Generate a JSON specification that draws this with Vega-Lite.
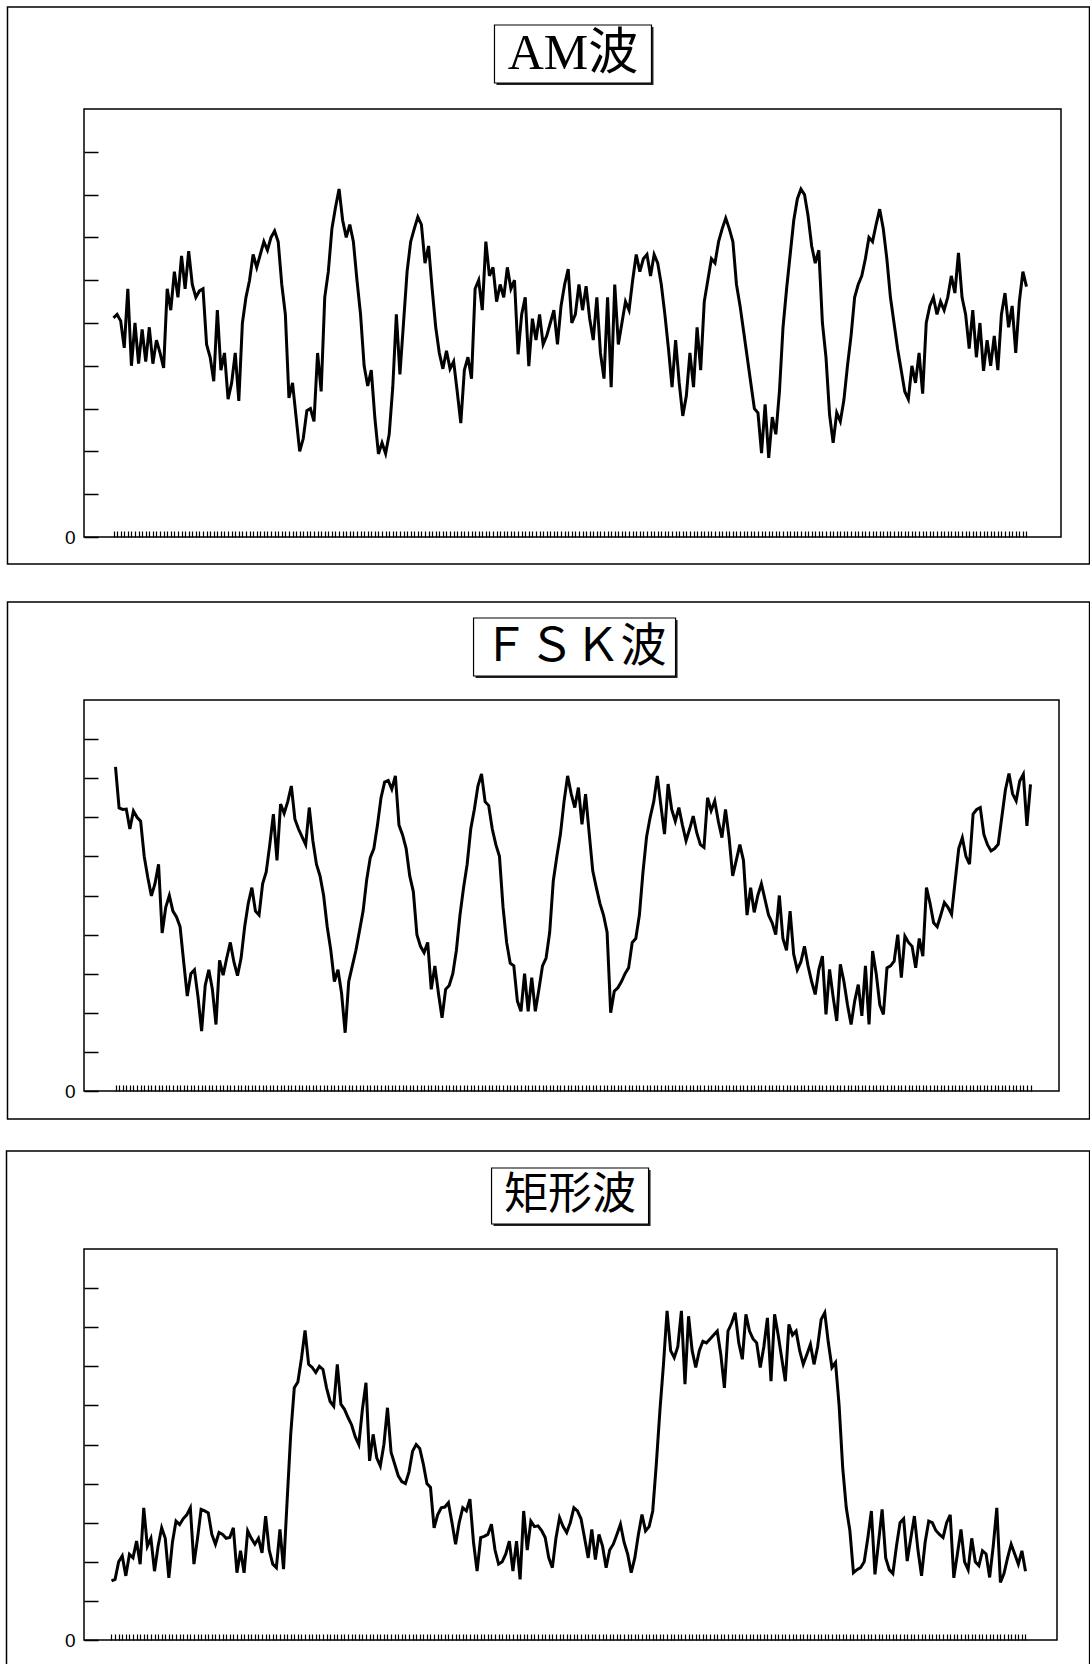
{
"$schema": "https://vega.github.io/schema/vega-lite/v6.json",
"padding": {"left": 5, "top": 5, "right": 0, "bottom": 0},
"background": "white",
"config": {"view": {"stroke": "#000", "strokeWidth": 1.5}, "axis": {"domain": false, "grid": false, "tickColor": "#000", "labelColor": "#000"}},
"datasets": {
"am": [{"i":0,"v":5.12},{"i":1,"v":5.2},{"i":2,"v":5.05},{"i":3,"v":4.42},{"i":4,"v":5.8},{"i":5,"v":4.0},{"i":6,"v":5.0},{"i":7,"v":4.05},{"i":8,"v":4.85},{"i":9,"v":4.1},{"i":10,"v":4.9},{"i":11,"v":4.05},{"i":12,"v":4.6},{"i":13,"v":4.3},{"i":14,"v":3.95},{"i":15,"v":5.8},{"i":16,"v":5.3},{"i":17,"v":6.2},{"i":18,"v":5.6},{"i":19,"v":6.57},{"i":20,"v":5.8},{"i":21,"v":6.68},{"i":22,"v":5.9},{"i":23,"v":5.6},{"i":24,"v":5.75},{"i":25,"v":5.8},{"i":26,"v":4.5},{"i":27,"v":4.2},{"i":28,"v":3.64},{"i":29,"v":5.3},{"i":30,"v":3.9},{"i":31,"v":4.3},{"i":32,"v":3.22},{"i":33,"v":3.6},{"i":34,"v":4.3},{"i":35,"v":3.18},{"i":36,"v":5.0},{"i":37,"v":5.6},{"i":38,"v":6.0},{"i":39,"v":6.6},{"i":40,"v":6.3},{"i":41,"v":6.6},{"i":42,"v":6.9},{"i":43,"v":6.7},{"i":44,"v":7.0},{"i":45,"v":7.15},{"i":46,"v":6.9},{"i":47,"v":5.9},{"i":48,"v":5.2},{"i":49,"v":3.25},{"i":50,"v":3.6},{"i":51,"v":2.8},{"i":52,"v":2.0},{"i":53,"v":2.3},{"i":54,"v":2.95},{"i":55,"v":3.0},{"i":56,"v":2.7},{"i":57,"v":4.3},{"i":58,"v":3.4},{"i":59,"v":5.6},{"i":60,"v":6.2},{"i":61,"v":7.2},{"i":62,"v":7.7},{"i":63,"v":8.13},{"i":64,"v":7.4},{"i":65,"v":7.0},{"i":66,"v":7.3},{"i":67,"v":6.9},{"i":68,"v":6.0},{"i":69,"v":5.2},{"i":70,"v":4.0},{"i":71,"v":3.53},{"i":72,"v":3.9},{"i":73,"v":2.78},{"i":74,"v":1.94},{"i":75,"v":2.2},{"i":76,"v":1.95},{"i":77,"v":2.4},{"i":78,"v":3.5},{"i":79,"v":5.2},{"i":80,"v":3.8},{"i":81,"v":5.0},{"i":82,"v":6.2},{"i":83,"v":6.9},{"i":84,"v":7.2},{"i":85,"v":7.48},{"i":86,"v":7.3},{"i":87,"v":6.4},{"i":88,"v":6.8},{"i":89,"v":5.8},{"i":90,"v":4.9},{"i":91,"v":4.3},{"i":92,"v":3.93},{"i":93,"v":4.35},{"i":94,"v":3.93},{"i":95,"v":4.1},{"i":96,"v":3.4},{"i":97,"v":2.66},{"i":98,"v":3.9},{"i":99,"v":4.2},{"i":100,"v":3.7},{"i":101,"v":5.8},{"i":102,"v":6.0},{"i":103,"v":5.3},{"i":104,"v":6.9},{"i":105,"v":6.1},{"i":106,"v":6.3},{"i":107,"v":5.5},{"i":108,"v":5.9},{"i":109,"v":5.6},{"i":110,"v":6.3},{"i":111,"v":5.8},{"i":112,"v":6.0},{"i":113,"v":4.27},{"i":114,"v":5.2},{"i":115,"v":5.6},{"i":116,"v":3.99},{"i":117,"v":5.1},{"i":118,"v":4.6},{"i":119,"v":5.2},{"i":120,"v":4.5},{"i":121,"v":4.7},{"i":122,"v":5.0},{"i":123,"v":5.3},{"i":124,"v":4.5},{"i":125,"v":5.4},{"i":126,"v":5.9},{"i":127,"v":6.26},{"i":128,"v":5.0},{"i":129,"v":5.2},{"i":130,"v":5.9},{"i":131,"v":5.3},{"i":132,"v":5.86},{"i":133,"v":5.1},{"i":134,"v":4.6},{"i":135,"v":5.6},{"i":136,"v":4.3},{"i":137,"v":3.7},{"i":138,"v":5.6},{"i":139,"v":3.5},{"i":140,"v":5.9},{"i":141,"v":4.5},{"i":142,"v":5.0},{"i":143,"v":5.5},{"i":144,"v":5.3},{"i":145,"v":6.0},{"i":146,"v":6.6},{"i":147,"v":6.2},{"i":148,"v":6.5},{"i":149,"v":6.6},{"i":150,"v":6.1},{"i":151,"v":6.6},{"i":152,"v":6.4},{"i":153,"v":5.9},{"i":154,"v":5.2},{"i":155,"v":4.4},{"i":156,"v":3.5},{"i":157,"v":4.6},{"i":158,"v":3.6},{"i":159,"v":2.83},{"i":160,"v":3.3},{"i":161,"v":4.3},{"i":162,"v":3.5},{"i":163,"v":4.9},{"i":164,"v":3.9},{"i":165,"v":5.5},{"i":166,"v":6.0},{"i":167,"v":6.5},{"i":168,"v":6.4},{"i":169,"v":6.9},{"i":170,"v":7.2},{"i":171,"v":7.45},{"i":172,"v":7.2},{"i":173,"v":6.9},{"i":174,"v":5.9},{"i":175,"v":5.4},{"i":176,"v":4.8},{"i":177,"v":4.2},{"i":178,"v":3.6},{"i":179,"v":3.0},{"i":180,"v":2.9},{"i":181,"v":1.96},{"i":182,"v":3.1},{"i":183,"v":1.85},{"i":184,"v":2.8},{"i":185,"v":2.4},{"i":186,"v":3.4},{"i":187,"v":4.9},{"i":188,"v":5.8},{"i":189,"v":6.6},{"i":190,"v":7.4},{"i":191,"v":7.9},{"i":192,"v":8.13},{"i":193,"v":8.0},{"i":194,"v":7.5},{"i":195,"v":6.8},{"i":196,"v":6.4},{"i":197,"v":6.7},{"i":198,"v":5.0},{"i":199,"v":4.2},{"i":200,"v":2.86},{"i":201,"v":2.2},{"i":202,"v":2.9},{"i":203,"v":2.7},{"i":204,"v":3.2},{"i":205,"v":4.0},{"i":206,"v":4.7},{"i":207,"v":5.6},{"i":208,"v":5.9},{"i":209,"v":6.1},{"i":210,"v":6.5},{"i":211,"v":7.0},{"i":212,"v":6.9},{"i":213,"v":7.3},{"i":214,"v":7.66},{"i":215,"v":7.2},{"i":216,"v":6.5},{"i":217,"v":5.6},{"i":218,"v":5.0},{"i":219,"v":4.4},{"i":220,"v":3.9},{"i":221,"v":3.4},{"i":222,"v":3.22},{"i":223,"v":4.0},{"i":224,"v":3.6},{"i":225,"v":4.3},{"i":226,"v":3.35},{"i":227,"v":5.0},{"i":228,"v":5.4},{"i":229,"v":5.6},{"i":230,"v":5.2},{"i":231,"v":5.5},{"i":232,"v":5.3},{"i":233,"v":5.6},{"i":234,"v":6.1},{"i":235,"v":5.7},{"i":236,"v":6.64},{"i":237,"v":5.6},{"i":238,"v":5.2},{"i":239,"v":4.4},{"i":240,"v":5.3},{"i":241,"v":4.2},{"i":242,"v":5.0},{"i":243,"v":3.88},{"i":244,"v":4.6},{"i":245,"v":4.0},{"i":246,"v":4.7},{"i":247,"v":3.9},{"i":248,"v":5.2},{"i":249,"v":5.7},{"i":250,"v":4.9},{"i":251,"v":5.4},{"i":252,"v":4.3},{"i":253,"v":5.5},{"i":254,"v":6.2},{"i":255,"v":5.85}],
"fsk": [{"i":0,"v":8.29},{"i":1,"v":7.24},{"i":2,"v":7.2},{"i":3,"v":7.21},{"i":4,"v":6.7},{"i":5,"v":7.16},{"i":6,"v":7.0},{"i":7,"v":6.9},{"i":8,"v":6.0},{"i":9,"v":5.46},{"i":10,"v":4.99},{"i":11,"v":5.3},{"i":12,"v":5.8},{"i":13,"v":4.04},{"i":14,"v":4.7},{"i":15,"v":5.0},{"i":16,"v":4.6},{"i":17,"v":4.45},{"i":18,"v":4.2},{"i":19,"v":3.3},{"i":20,"v":2.43},{"i":21,"v":3.0},{"i":22,"v":3.1},{"i":23,"v":2.4},{"i":24,"v":1.53},{"i":25,"v":2.7},{"i":26,"v":3.1},{"i":27,"v":2.6},{"i":28,"v":1.7},{"i":29,"v":3.34},{"i":30,"v":2.96},{"i":31,"v":3.4},{"i":32,"v":3.8},{"i":33,"v":3.3},{"i":34,"v":2.95},{"i":35,"v":3.4},{"i":36,"v":4.2},{"i":37,"v":4.8},{"i":38,"v":5.2},{"i":39,"v":4.6},{"i":40,"v":4.5},{"i":41,"v":5.3},{"i":42,"v":5.6},{"i":43,"v":6.3},{"i":44,"v":7.08},{"i":45,"v":5.9},{"i":46,"v":7.34},{"i":47,"v":7.1},{"i":48,"v":7.4},{"i":49,"v":7.8},{"i":50,"v":6.95},{"i":51,"v":6.7},{"i":52,"v":6.5},{"i":53,"v":6.3},{"i":54,"v":7.25},{"i":55,"v":6.4},{"i":56,"v":5.8},{"i":57,"v":5.5},{"i":58,"v":5.0},{"i":59,"v":4.2},{"i":60,"v":3.6},{"i":61,"v":2.8},{"i":62,"v":3.1},{"i":63,"v":2.5},{"i":64,"v":1.49},{"i":65,"v":2.8},{"i":66,"v":3.2},{"i":67,"v":3.6},{"i":68,"v":4.1},{"i":69,"v":4.6},{"i":70,"v":5.4},{"i":71,"v":5.97},{"i":72,"v":6.2},{"i":73,"v":6.8},{"i":74,"v":7.5},{"i":75,"v":7.9},{"i":76,"v":7.94},{"i":77,"v":7.72},{"i":78,"v":8.06},{"i":79,"v":6.8},{"i":80,"v":6.55},{"i":81,"v":6.2},{"i":82,"v":5.5},{"i":83,"v":5.1},{"i":84,"v":4.0},{"i":85,"v":3.7},{"i":86,"v":3.54},{"i":87,"v":3.8},{"i":88,"v":2.6},{"i":89,"v":3.2},{"i":90,"v":2.5},{"i":91,"v":1.87},{"i":92,"v":2.6},{"i":93,"v":2.7},{"i":94,"v":3.0},{"i":95,"v":3.6},{"i":96,"v":4.5},{"i":97,"v":5.2},{"i":98,"v":5.8},{"i":99,"v":6.7},{"i":100,"v":7.2},{"i":101,"v":7.8},{"i":102,"v":8.11},{"i":103,"v":7.4},{"i":104,"v":7.3},{"i":105,"v":6.7},{"i":106,"v":6.3},{"i":107,"v":6.0},{"i":108,"v":4.7},{"i":109,"v":3.8},{"i":110,"v":3.27},{"i":111,"v":3.2},{"i":112,"v":2.3},{"i":113,"v":2.04},{"i":114,"v":3.0},{"i":115,"v":2.04},{"i":116,"v":2.9},{"i":117,"v":2.04},{"i":118,"v":2.6},{"i":119,"v":3.2},{"i":120,"v":3.4},{"i":121,"v":4.06},{"i":122,"v":5.37},{"i":123,"v":6.0},{"i":124,"v":6.57},{"i":125,"v":7.4},{"i":126,"v":8.06},{"i":127,"v":7.6},{"i":128,"v":7.25},{"i":129,"v":7.76},{"i":130,"v":6.82},{"i":131,"v":7.59},{"i":132,"v":6.6},{"i":133,"v":5.63},{"i":134,"v":5.2},{"i":135,"v":4.8},{"i":136,"v":4.5},{"i":137,"v":4.06},{"i":138,"v":2.0},{"i":139,"v":2.55},{"i":140,"v":2.64},{"i":141,"v":2.8},{"i":142,"v":3.0},{"i":143,"v":3.15},{"i":144,"v":3.8},{"i":145,"v":3.9},{"i":146,"v":4.5},{"i":147,"v":5.6},{"i":148,"v":6.5},{"i":149,"v":7.0},{"i":150,"v":7.4},{"i":151,"v":8.06},{"i":152,"v":7.3},{"i":153,"v":6.57},{"i":154,"v":7.85},{"i":155,"v":7.2},{"i":156,"v":6.9},{"i":157,"v":7.25},{"i":158,"v":6.8},{"i":159,"v":6.4},{"i":160,"v":6.7},{"i":161,"v":7.03},{"i":162,"v":6.6},{"i":163,"v":6.3},{"i":164,"v":6.23},{"i":165,"v":7.5},{"i":166,"v":7.17},{"i":167,"v":7.42},{"i":168,"v":6.9},{"i":169,"v":6.48},{"i":170,"v":7.2},{"i":171,"v":6.48},{"i":172,"v":5.5},{"i":173,"v":5.9},{"i":174,"v":6.3},{"i":175,"v":5.9},{"i":176,"v":4.5},{"i":177,"v":5.2},{"i":178,"v":4.57},{"i":179,"v":5.0},{"i":180,"v":5.3},{"i":181,"v":4.9},{"i":182,"v":4.5},{"i":183,"v":4.3},{"i":184,"v":4.0},{"i":185,"v":5.0},{"i":186,"v":3.9},{"i":187,"v":3.6},{"i":188,"v":4.6},{"i":189,"v":3.5},{"i":190,"v":3.1},{"i":191,"v":3.3},{"i":192,"v":3.7},{"i":193,"v":3.2},{"i":194,"v":2.8},{"i":195,"v":2.47},{"i":196,"v":3.1},{"i":197,"v":3.45},{"i":198,"v":1.96},{"i":199,"v":3.11},{"i":200,"v":2.4},{"i":201,"v":1.79},{"i":202,"v":3.24},{"i":203,"v":2.8},{"i":204,"v":2.2},{"i":205,"v":1.7},{"i":206,"v":2.3},{"i":207,"v":2.72},{"i":208,"v":1.92},{"i":209,"v":3.2},{"i":210,"v":1.7},{"i":211,"v":3.58},{"i":212,"v":3.0},{"i":213,"v":2.2},{"i":214,"v":1.96},{"i":215,"v":3.15},{"i":216,"v":3.2},{"i":217,"v":3.32},{"i":218,"v":4.0},{"i":219,"v":2.9},{"i":220,"v":3.96},{"i":221,"v":3.8},{"i":222,"v":3.7},{"i":223,"v":3.15},{"i":224,"v":3.9},{"i":225,"v":3.45},{"i":226,"v":5.2},{"i":227,"v":4.8},{"i":228,"v":4.3},{"i":229,"v":4.2},{"i":230,"v":4.5},{"i":231,"v":4.82},{"i":232,"v":4.7},{"i":233,"v":4.52},{"i":234,"v":5.37},{"i":235,"v":6.2},{"i":236,"v":6.48},{"i":237,"v":6.0},{"i":238,"v":5.8},{"i":239,"v":7.08},{"i":240,"v":7.2},{"i":241,"v":7.25},{"i":242,"v":6.56},{"i":243,"v":6.3},{"i":244,"v":6.14},{"i":245,"v":6.2},{"i":246,"v":6.31},{"i":247,"v":7.0},{"i":248,"v":7.7},{"i":249,"v":8.12},{"i":250,"v":7.6},{"i":251,"v":7.42},{"i":252,"v":7.93},{"i":253,"v":8.1},{"i":254,"v":6.78},{"i":255,"v":7.84}],
"rect": [{"i":0,"v":1.51},{"i":1,"v":1.55},{"i":2,"v":2.0},{"i":3,"v":2.15},{"i":4,"v":1.64},{"i":5,"v":2.19},{"i":6,"v":2.1},{"i":7,"v":2.53},{"i":8,"v":1.94},{"i":9,"v":3.38},{"i":10,"v":2.4},{"i":11,"v":2.6},{"i":12,"v":1.76},{"i":13,"v":2.4},{"i":14,"v":2.87},{"i":15,"v":2.6},{"i":16,"v":1.59},{"i":17,"v":2.5},{"i":18,"v":3.04},{"i":19,"v":2.95},{"i":20,"v":3.1},{"i":21,"v":3.2},{"i":22,"v":3.38},{"i":23,"v":1.94},{"i":24,"v":2.6},{"i":25,"v":3.34},{"i":26,"v":3.3},{"i":27,"v":3.25},{"i":28,"v":2.7},{"i":29,"v":2.45},{"i":30,"v":2.75},{"i":31,"v":2.7},{"i":32,"v":2.6},{"i":33,"v":2.62},{"i":34,"v":2.87},{"i":35,"v":1.72},{"i":36,"v":2.28},{"i":37,"v":1.72},{"i":38,"v":2.79},{"i":39,"v":2.6},{"i":40,"v":2.45},{"i":41,"v":2.6},{"i":42,"v":2.23},{"i":43,"v":3.17},{"i":44,"v":2.3},{"i":45,"v":1.94},{"i":46,"v":1.85},{"i":47,"v":2.83},{"i":48,"v":1.81},{"i":49,"v":3.56},{"i":50,"v":5.26},{"i":51,"v":6.45},{"i":52,"v":6.6},{"i":53,"v":7.2},{"i":54,"v":7.92},{"i":55,"v":7.05},{"i":56,"v":6.97},{"i":57,"v":6.84},{"i":58,"v":7.0},{"i":59,"v":6.92},{"i":60,"v":6.45},{"i":61,"v":6.1},{"i":62,"v":5.98},{"i":63,"v":7.05},{"i":64,"v":6.03},{"i":65,"v":5.9},{"i":66,"v":5.69},{"i":67,"v":5.5},{"i":68,"v":5.2},{"i":69,"v":5.0},{"i":70,"v":5.9},{"i":71,"v":6.58},{"i":72,"v":4.58},{"i":73,"v":5.26},{"i":74,"v":4.66},{"i":75,"v":4.45},{"i":76,"v":5.0},{"i":77,"v":5.94},{"i":78,"v":4.8},{"i":79,"v":4.5},{"i":80,"v":4.2},{"i":81,"v":4.05},{"i":82,"v":4.0},{"i":83,"v":4.3},{"i":84,"v":4.83},{"i":85,"v":5.0},{"i":86,"v":4.9},{"i":87,"v":4.5},{"i":88,"v":4.0},{"i":89,"v":3.9},{"i":90,"v":2.87},{"i":91,"v":3.2},{"i":92,"v":3.38},{"i":93,"v":3.4},{"i":94,"v":3.51},{"i":95,"v":3.0},{"i":96,"v":2.45},{"i":97,"v":3.0},{"i":98,"v":3.38},{"i":99,"v":3.3},{"i":100,"v":3.6},{"i":101,"v":2.5},{"i":102,"v":1.76},{"i":103,"v":2.62},{"i":104,"v":2.65},{"i":105,"v":2.7},{"i":106,"v":2.96},{"i":107,"v":2.3},{"i":108,"v":1.94},{"i":109,"v":2.0},{"i":110,"v":2.2},{"i":111,"v":2.53},{"i":112,"v":1.76},{"i":113,"v":2.53},{"i":114,"v":1.55},{"i":115,"v":3.3},{"i":116,"v":2.3},{"i":117,"v":3.04},{"i":118,"v":2.9},{"i":119,"v":2.92},{"i":120,"v":2.8},{"i":121,"v":2.62},{"i":122,"v":2.1},{"i":123,"v":1.85},{"i":124,"v":2.6},{"i":125,"v":3.13},{"i":126,"v":2.9},{"i":127,"v":2.75},{"i":128,"v":3.0},{"i":129,"v":3.38},{"i":130,"v":3.3},{"i":131,"v":3.1},{"i":132,"v":2.6},{"i":133,"v":2.1},{"i":134,"v":2.83},{"i":135,"v":2.06},{"i":136,"v":2.7},{"i":137,"v":2.4},{"i":138,"v":1.85},{"i":139,"v":2.3},{"i":140,"v":2.45},{"i":141,"v":2.7},{"i":142,"v":2.96},{"i":143,"v":2.5},{"i":144,"v":2.2},{"i":145,"v":1.72},{"i":146,"v":2.1},{"i":147,"v":2.7},{"i":148,"v":3.21},{"i":149,"v":2.79},{"i":150,"v":2.9},{"i":151,"v":3.3},{"i":152,"v":4.5},{"i":153,"v":5.86},{"i":154,"v":7.05},{"i":155,"v":8.42},{"i":156,"v":7.4},{"i":157,"v":7.22},{"i":158,"v":7.5},{"i":159,"v":8.42},{"i":160,"v":6.54},{"i":161,"v":8.28},{"i":162,"v":7.4},{"i":163,"v":6.97},{"i":164,"v":7.4},{"i":165,"v":7.64},{"i":166,"v":7.6},{"i":167,"v":7.7},{"i":168,"v":7.8},{"i":169,"v":7.9},{"i":170,"v":7.3},{"i":171,"v":6.45},{"i":172,"v":7.9},{"i":173,"v":8.1},{"i":174,"v":8.37},{"i":175,"v":7.6},{"i":176,"v":7.18},{"i":177,"v":8.33},{"i":178,"v":7.9},{"i":179,"v":7.7},{"i":180,"v":7.6},{"i":181,"v":6.97},{"i":182,"v":7.5},{"i":183,"v":8.24},{"i":184,"v":6.62},{"i":185,"v":8.33},{"i":186,"v":7.8},{"i":187,"v":7.2},{"i":188,"v":6.62},{"i":189,"v":8.07},{"i":190,"v":7.8},{"i":191,"v":7.9},{"i":192,"v":7.4},{"i":193,"v":7.05},{"i":194,"v":7.3},{"i":195,"v":7.56},{"i":196,"v":7.05},{"i":197,"v":7.5},{"i":198,"v":8.2},{"i":199,"v":8.37},{"i":200,"v":7.6},{"i":201,"v":6.97},{"i":202,"v":7.1},{"i":203,"v":6.0},{"i":204,"v":4.41},{"i":205,"v":3.38},{"i":206,"v":2.8},{"i":207,"v":1.72},{"i":208,"v":1.8},{"i":209,"v":1.85},{"i":210,"v":2.0},{"i":211,"v":2.6},{"i":212,"v":3.3},{"i":213,"v":1.68},{"i":214,"v":2.5},{"i":215,"v":3.34},{"i":216,"v":2.1},{"i":217,"v":1.8},{"i":218,"v":1.7},{"i":219,"v":2.4},{"i":220,"v":3.0},{"i":221,"v":3.1},{"i":222,"v":2.02},{"i":223,"v":2.6},{"i":224,"v":3.17},{"i":225,"v":2.3},{"i":226,"v":1.64},{"i":227,"v":2.5},{"i":228,"v":3.04},{"i":229,"v":3.0},{"i":230,"v":2.8},{"i":231,"v":2.7},{"i":232,"v":2.62},{"i":233,"v":3.0},{"i":234,"v":3.2},{"i":235,"v":1.59},{"i":236,"v":2.2},{"i":237,"v":2.83},{"i":238,"v":2.0},{"i":239,"v":1.8},{"i":240,"v":2.6},{"i":241,"v":2.0},{"i":242,"v":1.9},{"i":243,"v":2.28},{"i":244,"v":2.2},{"i":245,"v":1.6},{"i":246,"v":2.4},{"i":247,"v":3.38},{"i":248,"v":1.47},{"i":249,"v":1.7},{"i":250,"v":2.1},{"i":251,"v":2.45},{"i":252,"v":2.2},{"i":253,"v":1.94},{"i":254,"v":2.28},{"i":255,"v":1.76}]
},
"spacing": 163,
"bounds": "flush",
"vconcat": [
{
"width": 977, "height": 428,
"layer": [
{"data": {"values": [{}]}, "mark": {"type": "rect", "fill": null, "stroke": "#000", "strokeWidth": 1.5, "clip": false},
 "encoding": {"x": {"datum": -29.61, "type": "quantitative", "title": null, "scale": {"domain": [-8.24, 264.64], "nice": false, "zero": false}}, "x2": {"datum": 272.6}, "y": {"datum": 12.383, "type": "quantitative", "title": null, "scale": {"domain": [0, 10], "nice": false}}, "y2": {"datum": -0.631}}},
{"data": {"values": [{}]}, "mark": {"type": "rect", "fill": "#222", "stroke": null, "clip": false},
 "encoding": {"x": {"datum": 106.97, "type": "quantitative", "title": null, "scale": {"domain": [-8.24, 264.64], "nice": false, "zero": false}}, "x2": {"datum": 150.82}, "y": {"datum": 11.916, "type": "quantitative", "title": null, "scale": {"domain": [0, 10], "nice": false}}, "y2": {"datum": 10.56}}},
{"data": {"values": [{}]}, "mark": {"type": "rect", "fill": "white", "stroke": "#000", "strokeWidth": 1.2, "clip": false},
 "encoding": {"x": {"datum": 106.41, "type": "quantitative", "title": null, "scale": {"domain": [-8.24, 264.64], "nice": false, "zero": false}}, "x2": {"datum": 150.26}, "y": {"datum": 11.963, "type": "quantitative", "title": null, "scale": {"domain": [0, 10], "nice": false}}, "y2": {"datum": 10.607}}},
{"data": {"values": [{}]}, "mark": {"type": "text", "font": "Liberation Serif, Noto Sans CJK JP", "fontSize": 50, "align": "center", "baseline": "middle", "color": "#000", "clip": false},
 "encoding": {"x": {"datum": 128.34, "type": "quantitative", "title": null, "scale": {"domain": [-8.24, 264.64], "nice": false, "zero": false}}, "y": {"datum": 11.285, "type": "quantitative", "title": null, "scale": {"domain": [0, 10], "nice": false}}, "text": {"value": "AM波"}}},
{"data": {"name": "am"},
 "mark": {"type": "line", "color": "#000", "strokeWidth": 3},
 "encoding": {
  "x": {"field": "i", "type": "quantitative", "title": null, "scale": {"domain": [-8.24, 264.64], "nice": false, "zero": false},
   "axis": {"title": null, "labels": false, "tickSize": -6, "tickWidth": 1.2, "tickCount": 400, "values": [0,1,2,3,4,5,6,7,8,9,10,11,12,13,14,15,16,17,18,19,20,21,22,23,24,25,26,27,28,29,30,31,32,33,34,35,36,37,38,39,40,41,42,43,44,45,46,47,48,49,50,51,52,53,54,55,56,57,58,59,60,61,62,63,64,65,66,67,68,69,70,71,72,73,74,75,76,77,78,79,80,81,82,83,84,85,86,87,88,89,90,91,92,93,94,95,96,97,98,99,100,101,102,103,104,105,106,107,108,109,110,111,112,113,114,115,116,117,118,119,120,121,122,123,124,125,126,127,128,129,130,131,132,133,134,135,136,137,138,139,140,141,142,143,144,145,146,147,148,149,150,151,152,153,154,155,156,157,158,159,160,161,162,163,164,165,166,167,168,169,170,171,172,173,174,175,176,177,178,179,180,181,182,183,184,185,186,187,188,189,190,191,192,193,194,195,196,197,198,199,200,201,202,203,204,205,206,207,208,209,210,211,212,213,214,215,216,217,218,219,220,221,222,223,224,225,226,227,228,229,230,231,232,233,234,235,236,237,238,239,240,241,242,243,244,245,246,247,248,249,250,251,252,253,254,255]}},
  "y": {"field": "v", "type": "quantitative", "title": null, "scale": {"domain": [0, 10], "nice": false},
   "axis": {"title": null, "values": [0,1,2,3,4,5,6,7,8,9], "tickCount": 20, "tickSize": -14, "tickWidth": 1.5, "labelExpr": "datum.value == 0 ? '0' : ''", "labelFont": "Liberation Sans", "labelFontSize": 19, "labelPadding": 23}}
 }}
]
},
{
"spacing": 158,
"bounds": "flush",
"vconcat": [
{
"width": 975, "height": 391,
"layer": [
{"data": {"values": [{}]}, "mark": {"type": "rect", "fill": null, "stroke": "#000", "strokeWidth": 1.5, "clip": false},
 "encoding": {"x": {"datum": -30.1, "type": "quantitative", "title": null, "scale": {"domain": [-8.78, 262.94], "nice": false, "zero": false}}, "x2": {"datum": 271.46}, "y": {"datum": 12.506, "type": "quantitative", "title": null, "scale": {"domain": [0, 10], "nice": false}}, "y2": {"datum": -0.716}}},
{"data": {"values": [{}]}, "mark": {"type": "rect", "fill": "#222", "stroke": null, "clip": false},
 "encoding": {"x": {"datum": 100.34, "type": "quantitative", "title": null, "scale": {"domain": [-8.78, 262.94], "nice": false, "zero": false}}, "x2": {"datum": 156.64}, "y": {"datum": 12.046, "type": "quantitative", "title": null, "scale": {"domain": [0, 10], "nice": false}}, "y2": {"datum": 10.563}}},
{"data": {"values": [{}]}, "mark": {"type": "rect", "fill": "white", "stroke": "#000", "strokeWidth": 1.2, "clip": false},
 "encoding": {"x": {"datum": 99.78, "type": "quantitative", "title": null, "scale": {"domain": [-8.78, 262.94], "nice": false, "zero": false}}, "x2": {"datum": 156.08}, "y": {"datum": 12.097, "type": "quantitative", "title": null, "scale": {"domain": [0, 10], "nice": false}}, "y2": {"datum": 10.614}}},
{"data": {"values": [{}]}, "mark": {"type": "text", "font": "Liberation Serif, Noto Sans CJK JP", "fontSize": 46, "align": "center", "baseline": "middle", "color": "#000", "clip": false},
 "encoding": {"x": {"datum": 127.93, "type": "quantitative", "title": null, "scale": {"domain": [-8.78, 262.94], "nice": false, "zero": false}}, "y": {"datum": 11.356, "type": "quantitative", "title": null, "scale": {"domain": [0, 10], "nice": false}}, "text": {"value": "ＦＳＫ波"}}},
{"data": {"name": "fsk"},
 "mark": {"type": "line", "color": "#000", "strokeWidth": 3},
 "encoding": {
  "x": {"field": "i", "type": "quantitative", "title": null, "scale": {"domain": [-8.78, 262.94], "nice": false, "zero": false},
   "axis": {"title": null, "labels": false, "tickSize": -6, "tickWidth": 1.2, "tickCount": 400, "values": [0,1,2,3,4,5,6,7,8,9,10,11,12,13,14,15,16,17,18,19,20,21,22,23,24,25,26,27,28,29,30,31,32,33,34,35,36,37,38,39,40,41,42,43,44,45,46,47,48,49,50,51,52,53,54,55,56,57,58,59,60,61,62,63,64,65,66,67,68,69,70,71,72,73,74,75,76,77,78,79,80,81,82,83,84,85,86,87,88,89,90,91,92,93,94,95,96,97,98,99,100,101,102,103,104,105,106,107,108,109,110,111,112,113,114,115,116,117,118,119,120,121,122,123,124,125,126,127,128,129,130,131,132,133,134,135,136,137,138,139,140,141,142,143,144,145,146,147,148,149,150,151,152,153,154,155,156,157,158,159,160,161,162,163,164,165,166,167,168,169,170,171,172,173,174,175,176,177,178,179,180,181,182,183,184,185,186,187,188,189,190,191,192,193,194,195,196,197,198,199,200,201,202,203,204,205,206,207,208,209,210,211,212,213,214,215,216,217,218,219,220,221,222,223,224,225,226,227,228,229,230,231,232,233,234,235,236,237,238,239,240,241,242,243,244,245,246,247,248,249,250,251,252,253,254,255]}},
  "y": {"field": "v", "type": "quantitative", "title": null, "scale": {"domain": [0, 10], "nice": false},
   "axis": {"title": null, "values": [0,1,2,3,4,5,6,7,8,9], "tickCount": 20, "tickSize": -14, "tickWidth": 1.5, "labelExpr": "datum.value == 0 ? '0' : ''", "labelFont": "Liberation Sans", "labelFontSize": 19, "labelPadding": 23}}
 }}
]
},
{
"width": 973, "height": 391,
"layer": [
{"data": {"values": [{}]}, "mark": {"type": "rect", "fill": null, "stroke": "#000", "strokeWidth": 1.5, "clip": false},
 "encoding": {"x": {"datum": -29.29, "type": "quantitative", "title": null, "scale": {"domain": [-7.67, 263.79], "nice": false, "zero": false}}, "x2": {"datum": 272.89}, "y": {"datum": 12.506, "type": "quantitative", "title": null, "scale": {"domain": [0, 10], "nice": false}}, "y2": {"datum": -1.05}}},
{"data": {"values": [{}]}, "mark": {"type": "rect", "fill": "#222", "stroke": null, "clip": false},
 "encoding": {"x": {"datum": 106.59, "type": "quantitative", "title": null, "scale": {"domain": [-7.67, 263.79], "nice": false, "zero": false}}, "x2": {"datum": 150.4}, "y": {"datum": 12.021, "type": "quantitative", "title": null, "scale": {"domain": [0, 10], "nice": false}}, "y2": {"datum": 10.588}}},
{"data": {"values": [{}]}, "mark": {"type": "rect", "fill": "white", "stroke": "#000", "strokeWidth": 1.2, "clip": false},
 "encoding": {"x": {"datum": 106.03, "type": "quantitative", "title": null, "scale": {"domain": [-7.67, 263.79], "nice": false, "zero": false}}, "x2": {"datum": 149.84}, "y": {"datum": 12.072, "type": "quantitative", "title": null, "scale": {"domain": [0, 10], "nice": false}}, "y2": {"datum": 10.639}}},
{"data": {"values": [{}]}, "mark": {"type": "text", "font": "Noto Sans CJK JP", "fontSize": 44, "align": "center", "baseline": "middle", "color": "#000", "clip": false},
 "encoding": {"x": {"datum": 127.93, "type": "quantitative", "title": null, "scale": {"domain": [-7.67, 263.79], "nice": false, "zero": false}}, "y": {"datum": 11.356, "type": "quantitative", "title": null, "scale": {"domain": [0, 10], "nice": false}}, "text": {"value": "矩形波"}}},
{"data": {"name": "rect"},
 "mark": {"type": "line", "color": "#000", "strokeWidth": 3},
 "encoding": {
  "x": {"field": "i", "type": "quantitative", "title": null, "scale": {"domain": [-7.67, 263.79], "nice": false, "zero": false},
   "axis": {"title": null, "labels": false, "tickSize": -6, "tickWidth": 1.2, "tickCount": 400, "values": [0,1,2,3,4,5,6,7,8,9,10,11,12,13,14,15,16,17,18,19,20,21,22,23,24,25,26,27,28,29,30,31,32,33,34,35,36,37,38,39,40,41,42,43,44,45,46,47,48,49,50,51,52,53,54,55,56,57,58,59,60,61,62,63,64,65,66,67,68,69,70,71,72,73,74,75,76,77,78,79,80,81,82,83,84,85,86,87,88,89,90,91,92,93,94,95,96,97,98,99,100,101,102,103,104,105,106,107,108,109,110,111,112,113,114,115,116,117,118,119,120,121,122,123,124,125,126,127,128,129,130,131,132,133,134,135,136,137,138,139,140,141,142,143,144,145,146,147,148,149,150,151,152,153,154,155,156,157,158,159,160,161,162,163,164,165,166,167,168,169,170,171,172,173,174,175,176,177,178,179,180,181,182,183,184,185,186,187,188,189,190,191,192,193,194,195,196,197,198,199,200,201,202,203,204,205,206,207,208,209,210,211,212,213,214,215,216,217,218,219,220,221,222,223,224,225,226,227,228,229,230,231,232,233,234,235,236,237,238,239,240,241,242,243,244,245,246,247,248,249,250,251,252,253,254,255]}},
  "y": {"field": "v", "type": "quantitative", "title": null, "scale": {"domain": [0, 10], "nice": false},
   "axis": {"title": null, "values": [0,1,2,3,4,5,6,7,8,9], "tickCount": 20, "tickSize": -14, "tickWidth": 1.5, "labelExpr": "datum.value == 0 ? '0' : ''", "labelFont": "Liberation Sans", "labelFontSize": 19, "labelPadding": 23}}
 }}
]
}
]
}
]
}
